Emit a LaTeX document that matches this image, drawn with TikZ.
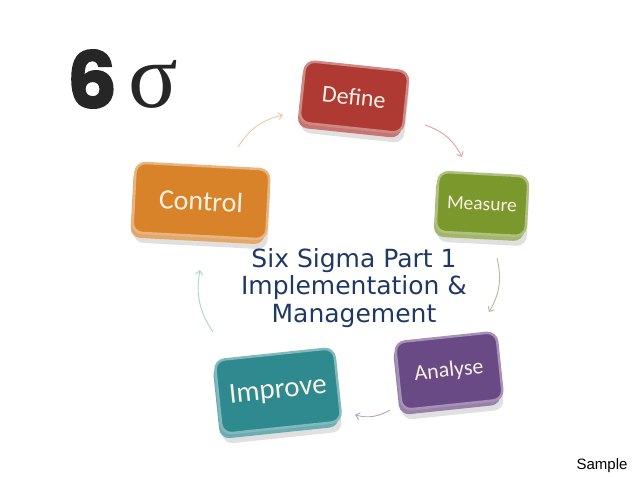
\documentclass[tikz,border=0pt]{standalone}
\usepackage{fontspec}
\setmainfont{DejaVu Sans}
\newfontfamily\boxfont{Carlito}
\newfontfamily\sixfont{Poppins}[FakeBold=2]
\newfontfamily\greekfont{Liberation Serif}
\newfontfamily\notefont{Liberation Sans}
\usetikzlibrary{arrows.meta,shadows}
\definecolor{define}{HTML}{AE3A33}
\definecolor{measure}{HTML}{7A982C}
\definecolor{control}{HTML}{D8822A}
\definecolor{analyse}{HTML}{6A4A85}
\definecolor{improve}{HTML}{2E8A8F}
\definecolor{title}{HTML}{1F3864}
\definecolor{label}{HTML}{F8F1E4}

\begin{document}
\begin{tikzpicture}[x=1pt,y=-1pt,
  phase/.style={rounded corners=10pt,fill=#1,draw=#1!60!white,line width=2.5pt,
    text=label,inner sep=0pt,
    drop shadow={shadow xshift=1pt,shadow yshift=-10pt,opacity=.12,fill=black},
    general shadow={shadow xshift=-2pt,shadow yshift=-5pt,fill=#1!70!white}},
  loop/.style={line width=0.9pt,-{Straight Barb[length=4pt,width=7pt]},bend left=22}]
\useasboundingbox (0,0) rectangle (638,479);
% the logo
\node[font=\sixfont\bfseries\fontsize{78}{78}\selectfont,text=black!85] (six) at (92,79) {6};
\node[font=\greekfont\fontsize{92}{92}\selectfont,text=black!85] (sigma) at (153,84) {σ};
% the five phases
\node[phase=define,minimum width=104,minimum height=62,rotate=-6,font=\boxfont\fontsize{24}{24}\selectfont] (define) at (354,97) {Define};
\node[phase=measure,minimum width=90,minimum height=60,rotate=-3,font=\boxfont\fontsize{19.5}{20}\selectfont] (measure) at (482,204) {Measure};
\node[phase=analyse,minimum width=102,minimum height=68,rotate=6,font=\boxfont\fontsize{22}{22}\selectfont] (analyse) at (449,371) {Analyse};
\node[phase=improve,minimum width=120,minimum height=74,rotate=6,font=\boxfont\fontsize{29}{29}\selectfont] (improve) at (278,391) {Improve};
\node[phase=control,minimum width=134,minimum height=70,rotate=-3,font=\boxfont\fontsize{28}{28}\selectfont] (control) at (201,201) {Control};
% title in the middle
\node[align=center,text=title,font=\fontsize{25}{27.5}\selectfont] (title) at (354,288) {Six Sigma Part 1\\Implementation \&\\Management};
\node[font=\notefont\fontsize{15}{15}\selectfont] (sample) at (602,466) {Sample};
% arrows round the cycle
\coordinate (c out) at (238,147); \coordinate (d in) at (283,115);
\coordinate (d out) at (425,125); \coordinate (m in) at (462,157);
\coordinate (m out) at (497,258); \coordinate (a in) at (489,312);
\coordinate (a out) at (390,410); \coordinate (i in) at (355,415);
\coordinate (i out) at (213,332); \coordinate (c in) at (200,270);
\draw[loop,draw=control!45!white] (c out) to (d in);
\draw[loop,draw=define!45!white] (d out) to (m in);
\draw[loop,draw=measure!55!gray!60!white] (m out) to (a in);
\draw[loop,draw=analyse!50!white] (a out) to (i in);
\draw[loop,draw=improve!40!white] (i out) to (c in);
\end{tikzpicture}
\end{document}
